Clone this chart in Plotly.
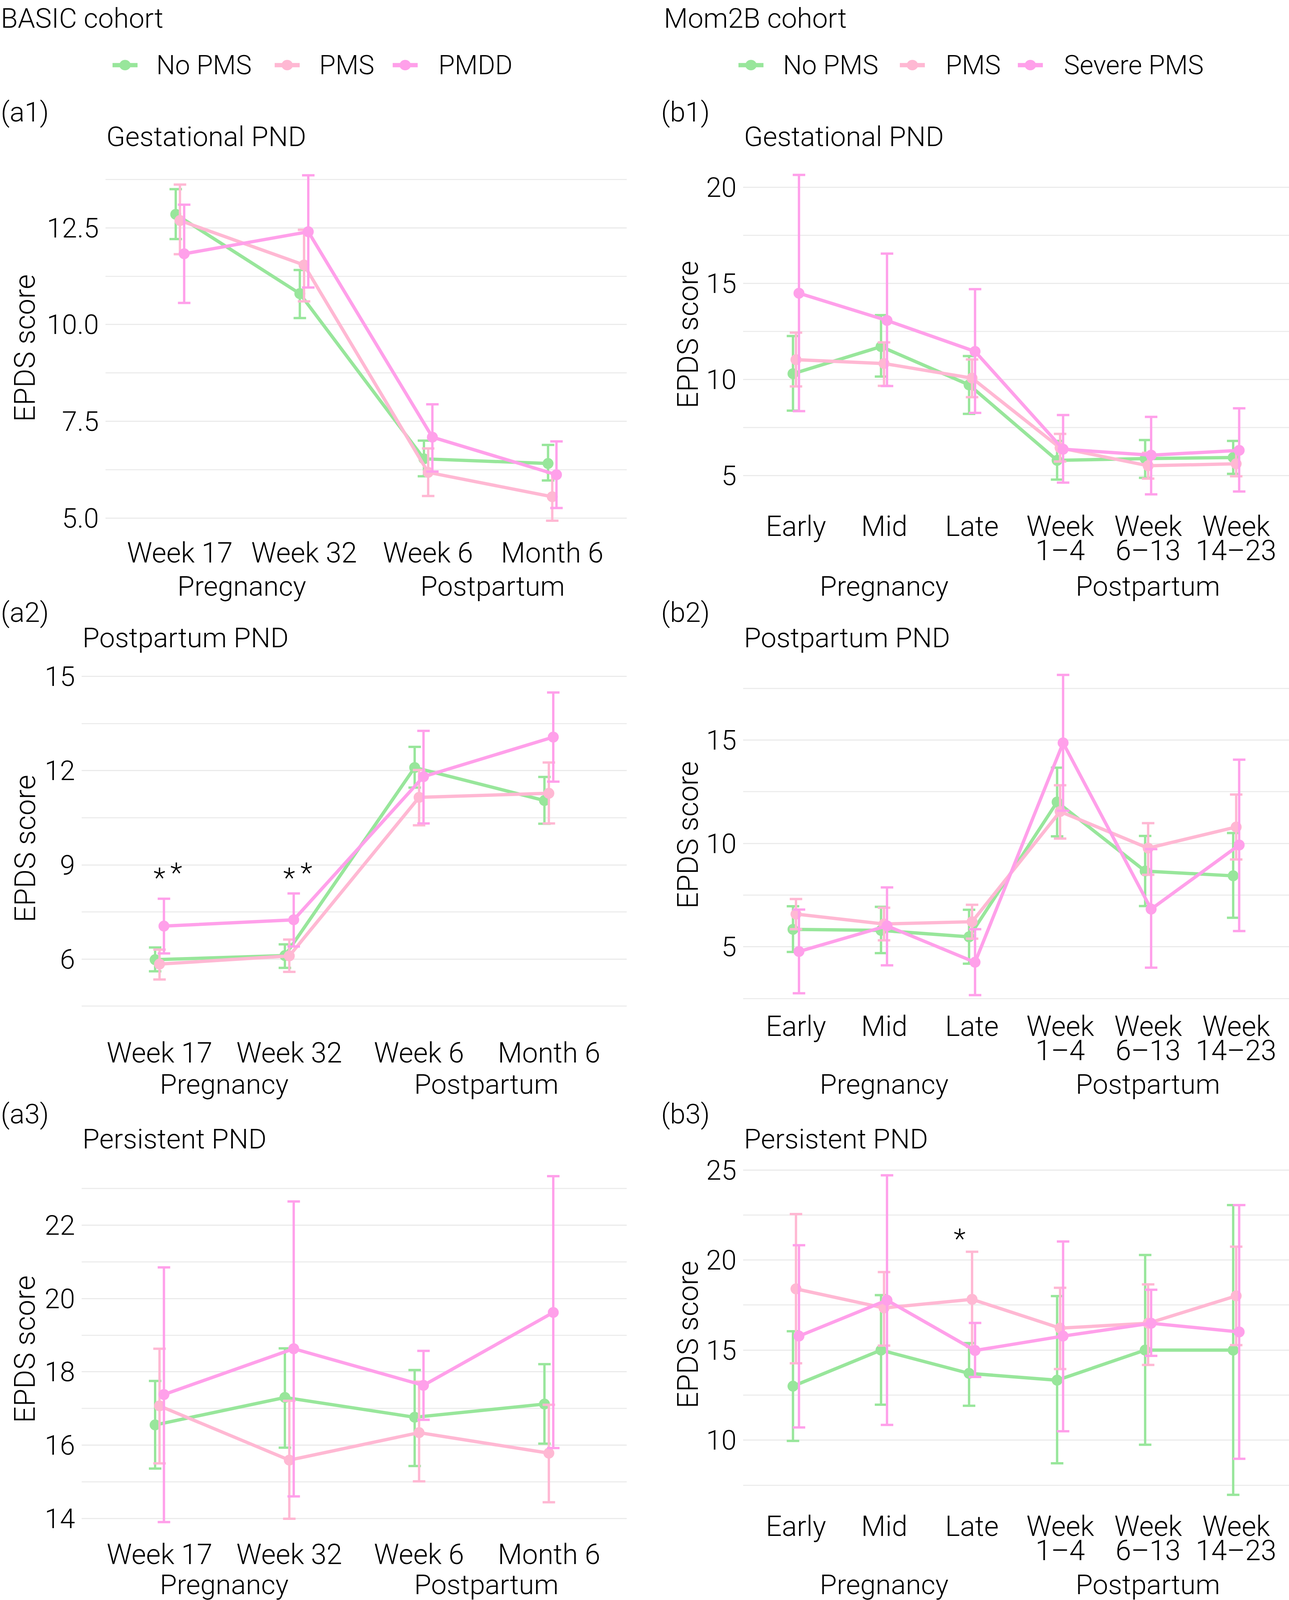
import plotly.graph_objects as go

# layout was measured on the 3299 x 4437 reference
W, H = 3299, 4437

# ---- data -------------------------------------------------------------
groups_basic = ["No PMS", "PMS", "PMDD"]
groups_mom2b = ["No PMS", "PMS", "Severe PMS"]
colors = ["#98E69B", "#FFB8D3", "#FFA0EA"]

basic_times = ["Week 17", "Week 32", "Week 6", "Month 6"]
mom2b_times = ["Early", "Mid", "Late", "Week", "Week", "Week"]
mom2b_times_2 = ["", "", "", "1\u20134", "6\u201313", "14\u201323"]

# (a1) BASIC, gestational PND
a1_nopms_mean = [12.85, 10.80, 6.53, 6.41]
a1_nopms_lo = [12.21, 10.17, 6.08, 5.97]
a1_nopms_hi = [13.50, 11.41, 7.00, 6.89]
a1_pms_mean = [12.69, 11.54, 6.18, 5.55]
a1_pms_lo = [11.82, 10.60, 5.57, 4.93]
a1_pms_hi = [13.62, 12.45, 6.80, 6.17]
a1_pmdd_mean = [11.83, 12.40, 7.09, 6.12]
a1_pmdd_lo = [10.56, 10.96, 6.20, 5.26]
a1_pmdd_hi = [13.10, 13.86, 7.94, 6.98]

# (a2) BASIC, postpartum PND
a2_nopms_mean = [5.98, 6.11, 12.10, 11.05]
a2_nopms_lo = [5.61, 5.72, 11.46, 10.31]
a2_nopms_hi = [6.37, 6.47, 12.76, 11.80]
a2_pms_mean = [5.84, 6.10, 11.15, 11.28]
a2_pms_lo = [5.35, 5.59, 10.26, 10.32]
a2_pms_hi = [6.30, 6.62, 12.02, 12.26]
a2_pmdd_mean = [7.05, 7.25, 11.81, 13.07]
a2_pmdd_lo = [6.18, 6.40, 10.32, 11.65]
a2_pmdd_hi = [7.92, 8.09, 13.27, 14.49]

# (a3) BASIC, persistent PND
a3_nopms_mean = [16.55, 17.30, 16.76, 17.12]
a3_nopms_lo = [15.36, 15.93, 15.43, 16.04]
a3_nopms_hi = [17.75, 18.64, 18.05, 18.21]
a3_pms_mean = [17.07, 15.59, 16.34, 15.78]
a3_pms_lo = [15.50, 13.99, 15.01, 14.44]
a3_pms_hi = [18.63, 17.21, 17.73, 17.10]
a3_pmdd_mean = [17.38, 18.63, 17.63, 19.62]
a3_pmdd_lo = [13.90, 14.60, 16.69, 15.92]
a3_pmdd_hi = [20.85, 22.65, 18.57, 23.34]

# (b1) Mom2B, gestational PND
b1_nopms_mean = [10.30, 11.71, 9.72, 5.79, 5.88, 5.94]
b1_nopms_lo = [8.38, 10.15, 8.21, 4.79, 4.88, 5.09]
b1_nopms_hi = [12.26, 13.35, 11.22, 6.80, 6.85, 6.80]
b1_pms_mean = [11.03, 10.83, 10.07, 6.44, 5.51, 5.61]
b1_pms_lo = [9.64, 9.67, 9.08, 5.73, 4.84, 4.96]
b1_pms_hi = [12.44, 11.93, 11.04, 7.17, 6.18, 6.30]
b1_sev_mean = [14.49, 13.07, 11.46, 6.37, 6.06, 6.31]
b1_sev_lo = [8.35, 9.66, 8.26, 4.63, 4.02, 4.17]
b1_sev_hi = [20.65, 16.55, 14.70, 8.15, 8.05, 8.50]

# (b2) Mom2B, postpartum PND
b2_nopms_mean = [5.84, 5.79, 5.48, 12.00, 8.66, 8.43]
b2_nopms_lo = [4.75, 4.69, 4.18, 10.34, 6.97, 6.40]
b2_nopms_hi = [6.96, 6.93, 6.79, 13.66, 10.36, 10.50]
b2_pms_mean = [6.58, 6.10, 6.21, 11.54, 9.77, 10.79]
b2_pms_lo = [5.85, 5.31, 5.39, 10.23, 8.48, 9.22]
b2_pms_hi = [7.31, 6.89, 7.03, 12.81, 10.98, 12.36]
b2_sev_mean = [4.77, 6.01, 4.25, 14.86, 6.82, 9.92]
b2_sev_lo = [2.75, 4.10, 2.66, 11.58, 3.99, 5.76]
b2_sev_hi = [6.80, 7.87, 5.85, 18.15, 9.72, 14.05]

# (b3) Mom2B, persistent PND
b3_nopms_mean = [13.00, 15.00, 13.71, 13.33, 15.00, 15.00]
b3_nopms_lo = [9.96, 11.97, 11.91, 8.72, 9.75, 6.97]
b3_nopms_hi = [16.05, 18.05, 15.39, 18.00, 20.28, 23.05]
b3_pms_mean = [18.40, 17.34, 17.82, 16.22, 16.49, 18.01]
b3_pms_lo = [14.27, 15.25, 15.18, 13.95, 14.18, 15.28]
b3_pms_hi = [22.55, 19.33, 20.46, 18.46, 18.65, 20.74]
b3_sev_mean = [15.78, 17.77, 14.98, 15.78, 16.49, 16.01]
b3_sev_lo = [10.71, 10.85, 13.51, 10.50, 14.68, 8.97]
b3_sev_hi = [20.82, 24.70, 16.51, 21.03, 18.35, 23.05]

# significance stars: panel, category position, y value
star_panel = ["a2", "a2", "a2", "a2", "b3"]
star_x = [0.0, 0.13, 1.0, 1.13, 1.86]
star_y = [8.79, 8.96, 8.79, 8.96, 21.55]

# ---- layout helpers ---------------------------------------------------
FONT = "Roboto"
FS = 71          # titles, headers, group labels
LEG_FS = 68      # legend labels
TICK_FS = 72     # category labels
YTICK_FS = 70    # y tick numbers
YTITLE_FS = 74
DODGE = 0.034


def px_x(p):
    return p / W


def px_y(p):
    return 1 - p / H


panels = {
    "a1": dict(n=1, x=(270, 1604), y=(425, 1483), yr=(4.48, 14.31), dt=2.5, mn=1.25, fmt=".1f",
               title="Gestational PND", tag="(a1)", tag_y=297, title_y=366, tick_y=1524, grp_y=1616),
    "a2": dict(n=2, x=(209, 1604), y=(1819, 2874), yr=(3.48, 15.56), dt=3, mn=1.5, fmt="d",
               title="Postpartum PND", tag="(a2)", tag_y=1689, title_y=1760, tick_y=2915, grp_y=3002),
    "a3": dict(n=3, x=(209, 1604), y=(3210, 4268), yr=(13.43, 23.81), dt=2, mn=1, fmt="d",
               title="Persistent PND", tag="(a3)", tag_y=3085, title_y=3154, tick_y=4310, grp_y=4394),
    "b1": dict(n=4, x=(1902, 3299), y=(428, 1405), yr=(3.20, 21.48), dt=5, mn=2.5, fmt="d",
               title="Gestational PND", tag="(b1)", tag_y=297, title_y=366, tick_y=1450, grp_y=1616),
    "b2": dict(n=5, x=(1902, 3299), y=(1819, 2798), yr=(1.90, 18.92), dt=5, mn=2.5, fmt="d",
               title="Postpartum PND", tag="(b2)", tag_y=1689, title_y=1760, tick_y=2841, grp_y=3002),
    "b3": dict(n=6, x=(1902, 3299), y=(3211, 4186), yr=(6.14, 25.59), dt=5, mn=2.5, fmt="d",
               title="Persistent PND", tag="(b3)", tag_y=3085, title_y=3154, tick_y=4232, grp_y=4394),
}

series = {
    "a1": [(a1_nopms_mean, a1_nopms_lo, a1_nopms_hi), (a1_pms_mean, a1_pms_lo, a1_pms_hi),
           (a1_pmdd_mean, a1_pmdd_lo, a1_pmdd_hi)],
    "a2": [(a2_nopms_mean, a2_nopms_lo, a2_nopms_hi), (a2_pms_mean, a2_pms_lo, a2_pms_hi),
           (a2_pmdd_mean, a2_pmdd_lo, a2_pmdd_hi)],
    "a3": [(a3_nopms_mean, a3_nopms_lo, a3_nopms_hi), (a3_pms_mean, a3_pms_lo, a3_pms_hi),
           (a3_pmdd_mean, a3_pmdd_lo, a3_pmdd_hi)],
    "b1": [(b1_nopms_mean, b1_nopms_lo, b1_nopms_hi), (b1_pms_mean, b1_pms_lo, b1_pms_hi),
           (b1_sev_mean, b1_sev_lo, b1_sev_hi)],
    "b2": [(b2_nopms_mean, b2_nopms_lo, b2_nopms_hi), (b2_pms_mean, b2_pms_lo, b2_pms_hi),
           (b2_sev_mean, b2_sev_lo, b2_sev_hi)],
    "b3": [(b3_nopms_mean, b3_nopms_lo, b3_nopms_hi), (b3_pms_mean, b3_pms_lo, b3_pms_hi),
           (b3_sev_mean, b3_sev_lo, b3_sev_hi)],
}

fig = go.Figure()
annotations = []
shapes = []


def text(x, y, s, xref="paper", yref="paper", xanchor="center", size=FS, angle=0, yshift=0):
    annotations.append(dict(x=x, y=y, xref=xref, yref=yref, text=s, showarrow=False,
                            xanchor=xanchor, yanchor="middle", textangle=angle, yshift=yshift,
                            font=dict(family=FONT, size=size, color="black", weight=300)))


for name, p in panels.items():
    n = p["n"]
    xa, ya = ("x" if n == 1 else f"x{n}"), ("y" if n == 1 else f"y{n}")
    basic = name.startswith("a")
    cats = basic_times if basic else mom2b_times
    ncat = len(cats)

    for gi, (mean, lo, hi) in enumerate(series[name]):
        xs = [i + (gi - 1) * DODGE for i in range(ncat)]
        fig.add_trace(go.Scatter(
            x=xs, y=mean, xaxis=xa, yaxis=ya, mode="lines+markers", showlegend=False,
            line=dict(color=colors[gi], width=8.5),
            marker=dict(color=colors[gi], size=28),
            error_y=dict(type="data", symmetric=False,
                         array=[h - m for h, m in zip(hi, mean)],
                         arrayminus=[m - l for m, l in zip(mean, lo)],
                         color=colors[gi], thickness=6, width=16),
        ))

    key = "" if n == 1 else str(n)
    fig.update_layout(**{
        f"xaxis{key}": dict(domain=[px_x(p["x"][0]), px_x(p["x"][1])], anchor=ya,
                            range=[-0.6, ncat - 0.4], showgrid=False, zeroline=False,
                            showticklabels=False, showline=False, fixedrange=True),
        f"yaxis{key}": dict(domain=[px_y(p["y"][1]), px_y(p["y"][0])], anchor=xa,
                            range=list(p["yr"]), dtick=p["dt"], tick0=0, tickformat=p["fmt"],
                            showgrid=True, gridcolor="#EBEBEB", gridwidth=3, zeroline=False,
                            showline=False, ticks="", ticklabelstandoff=16,
                            tickfont=dict(family=FONT, size=YTICK_FS, color="black", weight=300),
                            minor=dict(dtick=p["mn"], tick0=0, showgrid=True,
                                       gridcolor="#EDEDED", gridwidth=3),
                            fixedrange=True),
    })

    left = 0 if basic else 1690
    text(px_x(left), px_y(p["tag_y"]), p["tag"], xanchor="left")
    text(px_x(p["x"][0]), px_y(p["title_y"]), p["title"], xanchor="left")

    # y-axis title
    ymid = px_y((p["y"][0] + p["y"][1]) / 2)
    text(px_x(64 if basic else 1760), ymid, "EPDS score", angle=-90, size=YTITLE_FS)

    # category labels under each panel
    for i, c in enumerate(cats):
        text(i, px_y(p["tick_y"]), c, xref=xa, size=TICK_FS)
        if not basic and mom2b_times_2[i]:
            text(i, px_y(p["tick_y"] + 68), mom2b_times_2[i], xref=xa, size=TICK_FS)
    if basic:
        text(0.5, px_y(p["grp_y"]), "Pregnancy", xref=xa)
        text(2.52, px_y(p["grp_y"]), "Postpartum", xref=xa)
    else:
        text(1, px_y(p["grp_y"]), "Pregnancy", xref=xa)
        text(4, px_y(p["grp_y"]), "Postpartum", xref=xa)

# significance stars
for pn, sx, sy in zip(star_panel, star_x, star_y):
    n = panels[pn]["n"]
    text(sx, sy, "*", xref=f"x{n}" if n > 1 else "x", yref=f"y{n}" if n > 1 else "y", yshift=-16)

# cohort headers and hand-made legends
text(px_x(0), px_y(36), "BASIC cohort", xanchor="left")
text(px_x(1697), px_y(36), "Mom2B cohort", xanchor="left")

legend_y = 167
legend_keys = [(groups_basic, [320, 735, 1037], [398, 815, 1120]),
               (groups_mom2b, [1922, 2335, 2637], [2002, 2418, 2721])]
for names, keys, labels in legend_keys:
    for gi, (nm, kx, lx) in enumerate(zip(names, keys, labels)):
        shapes.append(dict(type="line", xref="paper", yref="paper",
                           x0=px_x(kx - 32), x1=px_x(kx + 32), y0=px_y(legend_y), y1=px_y(legend_y),
                           line=dict(color=colors[gi], width=11)))
        shapes.append(dict(type="circle", xref="paper", yref="paper", fillcolor=colors[gi],
                           line=dict(width=0),
                           x0=px_x(kx - 14.5), x1=px_x(kx + 14.5),
                           y0=px_y(legend_y + 14.5), y1=px_y(legend_y - 14.5)))
        text(px_x(lx), px_y(legend_y), nm, xanchor="left", size=LEG_FS)

fig.update_layout(
    width=W, height=H,
    margin=dict(l=0, r=0, t=0, b=0),
    paper_bgcolor="white", plot_bgcolor="white",
    font=dict(family=FONT, size=FS, color="black", weight=300),
    annotations=annotations, shapes=shapes,
    showlegend=False,
)

# fit the page exactly to the visible window so nothing is cut at the bottom
fit_js = """
document.body.style.margin = '0';
document.body.style.overflow = 'hidden';
var gd = document.getElementById('{plot_id}');
Plotly.relayout(gd, {width: window.innerWidth, height: window.innerHeight});
"""

fig.write_html("out.html", post_script=fit_js, config={"displayModeBar": False})
